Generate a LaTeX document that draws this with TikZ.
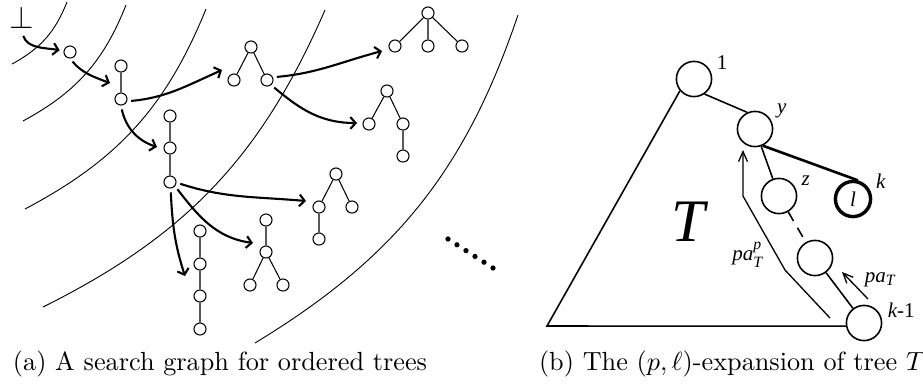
\documentclass[tikz,border=0pt]{standalone}
\usepackage{amsmath,amssymb}
\usepackage{fontspec}
\newfontfamily\tmsfont{Liberation Serif}
\usepackage{tikz}
\usetikzlibrary{arrows.meta,positioning,calc}

\begin{document}
\begin{tikzpicture}[x=0.381pt,y=0.381pt,>={Straight Barb[length=2pt,width=4.5pt]},
 tn/.style={circle,draw,line width=0.4pt,inner sep=0pt,minimum size=4.6pt},
 link/.style={line width=0.4pt},
 sa/.style={->,line width=0.8pt,shorten <=1.5pt},
 ring/.style={line width=0.35pt},
 bn/.style={circle,draw,line width=0.6pt,inner sep=0pt,minimum size=13.4pt,
 font=\footnotesize\tmsfont\itshape},
 lbl/.style={font=\footnotesize\tmsfont\itshape,inner sep=0.5pt},
 pa/.style={-{Straight Barb[length=3.8pt,width=3.4pt]},line width=0.5pt}]
\useasboundingbox (0,0) rectangle (923,-385);

\foreach \ax/\ay/\bx/\by in {67/2/12/64,126/5/23/121,206/9/25/209,325/10/43/307,518/15/255/343}
 \draw[ring] (\ax,-\ay) to[bend left=20] (\bx,-\by);

\node[font=\large,inner sep=1pt] (bot) at (22,-18) {$\perp$};
\node[tn] (n1) at (70,-52) {};
\node[tn] (a1) at (121,-66) {};
\node[tn] (a2) at (121,-99) {};
\node[tn] (b0) at (251,-47) {};
\node[tn] (b1) at (234,-80) {};
\node[tn] (b2) at (267,-80) {};
\node[tn] (c1) at (170,-116) {};
\node[tn] (c2) at (170,-148) {};
\node[tn] (c3) at (170,-182) {};
\node[tn] (d0) at (428,-13) {};
\node[tn] (d1) at (395,-46) {};
\node[tn] (d2) at (428,-46) {};
\node[tn] (d3) at (462,-46) {};
\node[tn] (e0) at (387,-91) {};
\node[tn] (e1) at (369,-124) {};
\node[tn] (e2) at (403,-124) {};
\node[tn] (e3) at (403,-156) {};
\node[tn] (f0) at (336,-174) {};
\node[tn] (f1) at (319,-207) {};
\node[tn] (f2) at (352,-207) {};
\node[tn] (f3) at (319,-239) {};
\node[tn] (g0) at (266,-220) {};
\node[tn] (g1) at (266,-252) {};
\node[tn] (g2) at (250,-285) {};
\node[tn] (g3) at (283,-285) {};
\node[tn] (h1) at (200,-231) {};
\node[tn] (h2) at (200,-264) {};
\node[tn] (h3) at (200,-296) {};
\node[tn] (h4) at (200,-329) {};
\draw[link] (a1)--(a2) (b0)--(b1) (b0)--(b2) (c1)--(c2)--(c3)
 (d0)--(d1) (d0)--(d2) (d0)--(d3) (e0)--(e1) (e0)--(e2)--(e3)
 (f0)--(f1)--(f3) (f0)--(f2) (g0)--(g1)--(g2) (g1)--(g3) (h1)--(h2)--(h3)--(h4);

\coordinate (aim-a) at (110,-83);
\coordinate (aim-b) at (222,-70);
\coordinate (aim-c) at (157,-147);
\coordinate (aim-d) at (382,-51);
\coordinate (aim-e) at (357,-123);
\coordinate (aim-f) at (306,-201);
\coordinate (aim-g) at (253,-243);
\coordinate (aim-h) at (185,-276);
\draw[sa,shorten >=1.5pt] (bot.south) to[out=-72,in=170] (n1);
\draw[sa] (n1.south) to[out=-50,in=160] (aim-a);
\draw[sa] (a2.-20) to[out=5,in=204] (aim-b);
\draw[sa] (a2.south) to[out=-78,in=162] (aim-c);
\draw[sa] (b2.25) to[out=5,in=195] (aim-d);
\draw[sa] (b2.-50) to[out=-40,in=180] (aim-e);
\draw[sa] (c3.-5) to[out=-18,in=175] (aim-f);
\draw[sa] (c3.-40) to[out=-52,in=172] (aim-g);
\draw[sa] (c3.-85) to[out=-87,in=108] (aim-h);
\foreach \i in {0,...,5}
 \fill ({448+9*\i},{-239-5.8*\i}) circle (1pt);

\node[bn,label={[lbl,label distance=1.5pt]20:{\upshape 1}}] (r1) at (694,-79) {};
\node[bn,label={[lbl,label distance=1.5pt]25:y}] (ny) at (755,-129) {};
\node[bn,label={[lbl,label distance=1.5pt]22:z}] (nz) at (779,-196) {};
\node[bn,line width=1.3pt,label={[lbl,label distance=1.5pt]23:k}] (nl) at (853,-199) {l};
\node[bn] (nm) at (815,-258) {};
\node[bn,label={[lbl,label distance=1.5pt]10:{k\upshape -1}}] (nk) at (864,-323) {};
\coordinate (tl) at (547,-326);
\draw[line width=0.6pt] (r1.-55) -- (ny.115);
\draw[line width=1pt] (ny.-65) -- (nl.75);
\draw[line width=0.6pt] (ny) -- (nz);
\draw[line width=0.6pt,dash pattern=on 4pt off 3pt] (nz) -- (nm);
\draw[line width=0.6pt] (nm) -- (nk);
\draw[line width=0.6pt] (r1.220) -- (tl) -- (nk.190);
\node[font=\fontsize{23}{25}\tmsfont\itshape] (bigT) at (688,-222) {T};

\coordinate (pp0) at (830,-318);
\coordinate (pp1) at (785,-270);
\coordinate (pp2) at (743,-196);
\coordinate (pp3) at (743,-150);
\draw[pa] (pp0) -- (pp1) -- (pp2) -- (pp3);
\node[lbl] (ppl) at (748,-255) {pa$_{\textit{T}}^{\textit{p}}$};
\coordinate (pt0) at (868,-299);
\coordinate (pt1) at (842,-272);
\draw[pa] (pt0) -- (pt1);
\node[lbl,anchor=west] (ptl) at (863,-280) {pa$_{\textit{T}}$};

\node[anchor=base] (capa) at (220,-370) {(a) A search graph for ordered trees};
\node[anchor=base] (capb) at (732,-370) {(b) The $(p,\ell)$-expansion of tree $T$};
\end{tikzpicture}
\end{document}
